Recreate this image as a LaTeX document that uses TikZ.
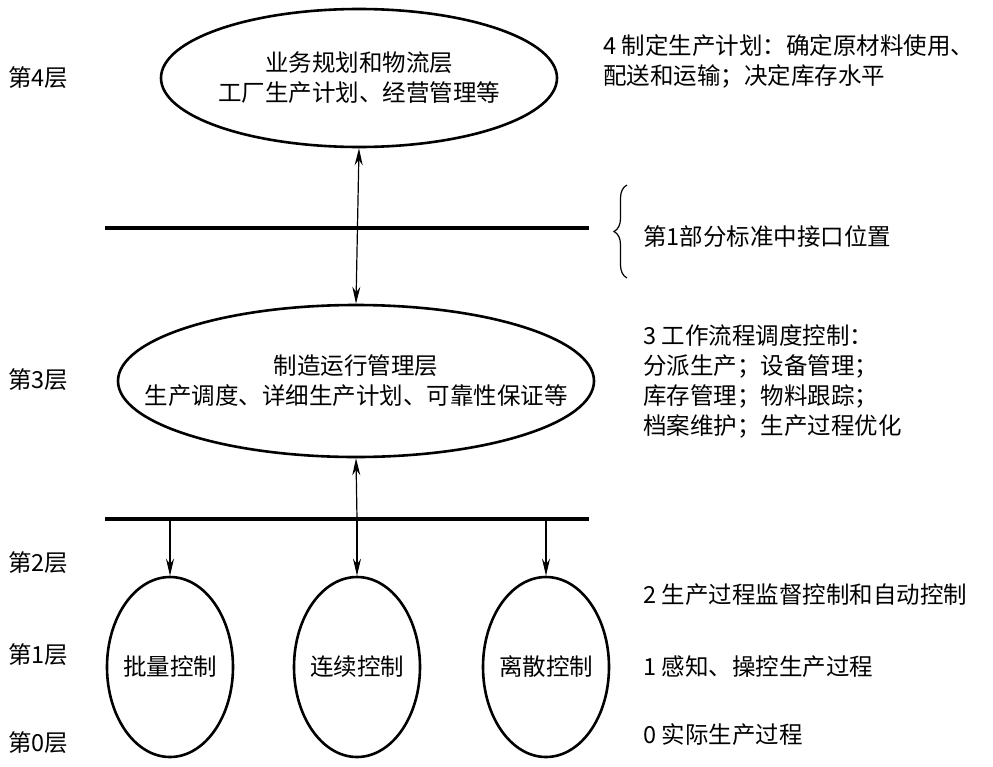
\documentclass[tikz,border=0pt]{standalone}
\usepackage{fontspec}
\setmainfont{Noto Sans CJK SC}
\usetikzlibrary{shapes.geometric,arrows.meta,decorations.pathreplacing}
\begin{document}
\begin{tikzpicture}[x = 1pt, y = -1pt,
    font = \fontsize{23.5pt}{30pt}\selectfont,
    layer/.style = {draw, ellipse, line width = 2.6pt, inner sep = 0pt},
    bus/.style = {line width = 3.2pt},
    link/.style = {line width = 1.2pt, -{Stealth[length = 17pt, width = 8pt]}},
    both/.style = {line width = 1.2pt, {Stealth[length = 17pt, width = 8pt]}-{Stealth[length = 17pt, width = 8pt]}},
    note/.style = {anchor = west, align = left, inner sep = 0pt}]
    \useasboundingbox (0,0) rectangle (993,766);
    \node[layer, minimum width = 396pt, minimum height = 138pt] (l4) at (359,78) {};
    \node[align = center] (l4text) at (l4) {业务规划和物流层\\工厂生产计划、经营管理等};
    \node[layer, minimum width = 476pt, minimum height = 152pt] (l3) at (356,381) {};
    \node[align = center] (l3text) at (l3) {制造运行管理层\\生产调度、详细生产计划、可靠性保证等};
    \node[layer, minimum width = 126pt, minimum height = 180pt] (batch) at (170,667) {};
    \node (batchtext) at (batch) {批量控制};
    \node[layer, minimum width = 126pt, minimum height = 180pt] (cont) at (357,667) {};
    \node (conttext) at (cont) {连续控制};
    \node[layer, minimum width = 126pt, minimum height = 180pt] (disc) at (546,667) {};
    \node (disctext) at (disc) {离散控制};
    \begin{scope}[style = bus]
        \draw (105,228) coordinate (bus1w) -- (589,228) coordinate (bus1e);
        \draw (105,519) coordinate (bus2w) -- (589,519) coordinate (bus2e);
    \end{scope}
    \coordinate (tap1) at (170,519);
    \coordinate (tap2) at (357,519);
    \coordinate (tap3) at (546,519);
    \draw[both] (l4.south) -- (l3.north);
    \draw[link] (tap2) -- (l3.south);
    \draw[link] (tap1) -- (batch.north);
    \draw[link] (tap2) -- (cont.north);
    \draw[link] (tap3) -- (disc.north);
    \draw[line width = 1.2pt, decorate, decoration = {brace, amplitude = 13pt}] (627,278) -- (627,185) coordinate[midway] (tip);
    \node[note] (iface) at (643,237) {第1部分标准中接口位置};
    \node[note] (n4) at (8,78) {第4层};
    \node[note] (n3) at (8,380) {第3层};
    \node[note] (n2) at (8,563) {第2层};
    \node[note] (n1) at (8,655) {第1层};
    \node[note] (n0) at (8,743) {第0层};
    \node[note] (d4) at (603,61) {4 制定生产计划：确定原材料使用、\\配送和运输；决定库存水平};
    \node[note] (d3) at (643,381) {3 工作流程调度控制：\\分派生产；设备管理；\\库存管理；物料跟踪；\\档案维护；生产过程优化};
    \node[note] (d2) at (643,595) {2 生产过程监督控制和自动控制};
    \node[note] (d1) at (643,667) {1 感知、操控生产过程};
    \node[note] (d0) at (643,735) {0 实际生产过程};
\end{tikzpicture}
\end{document}
